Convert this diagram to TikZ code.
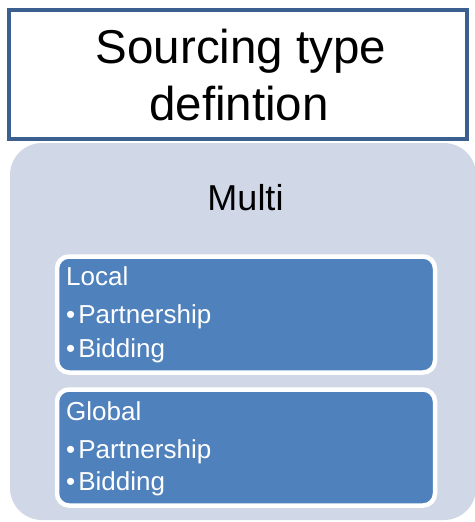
\documentclass[tikz,border=0pt]{standalone}
\usepackage{fontspec}
\setmainfont{Liberation Sans}
\definecolor{bordblue}{HTML}{3B5F8E}
\definecolor{panelgrey}{HTML}{D0D8E8}
\definecolor{itemblue}{HTML}{4F81BD}
\begin{document}
\begin{tikzpicture}[x=1pt,y=-1pt,
  titlebox/.style={draw=bordblue,line width=4pt,fill=white,rectangle,inner sep=0pt},
  panel/.style={fill=panelgrey,rounded corners=32pt,rectangle,inner sep=0pt},
  itembox/.style={fill=itemblue,draw=white,line width=4.5pt,rounded corners=12pt,rectangle,inner sep=0pt},
  ttl/.style={anchor=base,inner sep=0pt,font=\fontsize{47.5}{57}\selectfont},
  sub/.style={anchor=base,inner sep=0pt,font=\fontsize{36}{43}\selectfont},
  itm/.style={anchor=base west,inner sep=0pt,text=white,font=\fontsize{26}{31}\selectfont}]
\useasboundingbox (0,0) rectangle (474,522);
% grey panel
\node[panel,minimum width=466pt,minimum height=377pt] (panel) at (243,331.5) {};
% title box
\node[titlebox,minimum width=458pt,minimum height=129pt] (title) at (238,74.5) {};
\node[ttl] (t1) at (241,63) {Sourcing type};
\node[ttl] (t2) at (239,120) {defintion};
% Multi
\node[sub] (multi) at (245.5,210) {Multi};
% Local box
\node[itembox,minimum width=378pt,minimum height=116pt] (local) at (246,314.5) {};
\node[itm] (lh) at (66,285) {Local};
\node[itm] (l1) at (66,323) {•\kern3pt Partnership};
\node[itm] (l2) at (66,357) {•\kern3pt Bidding};
% Global box
\node[itembox,minimum width=378pt,minimum height=116pt] (global) at (246,447.5) {};
\node[itm] (gh) at (66,420) {Global};
\node[itm] (g1) at (66,458) {•\kern3pt Partnership};
\node[itm] (g2) at (66,490) {•\kern3pt Bidding};
\end{tikzpicture}
\end{document}
